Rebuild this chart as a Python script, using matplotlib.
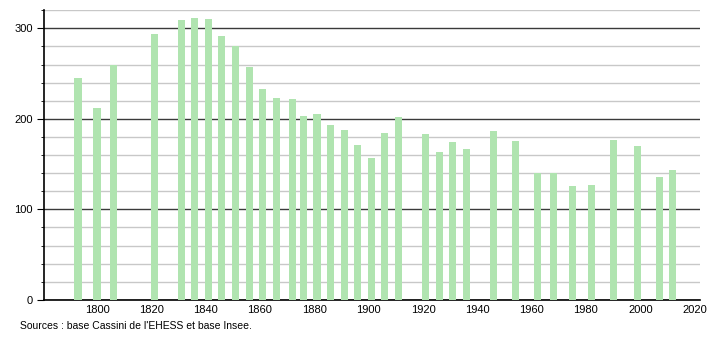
import matplotlib.pyplot as plt
from matplotlib.ticker import MultipleLocator

years = [1793, 1800, 1806, 1821, 1831, 1836, 1841, 1846, 1851, 1856,
         1861, 1866, 1872, 1876, 1881, 1886, 1891, 1896, 1901, 1906,
         1911, 1921, 1926, 1931, 1936, 1946, 1954, 1962, 1968, 1975,
         1982, 1990, 1999, 2007, 2012]
population = [245, 212, 259, 294, 309, 311, 310, 292, 281, 257,
              233, 223, 222, 203, 205, 193, 188, 171, 157, 184,
              202, 183, 163, 174, 167, 187, 176, 140, 140, 126,
              127, 177, 170, 136, 143]
x_ticks = [1800, 1820, 1840, 1860, 1880, 1900, 1920, 1940, 1960, 1980, 2000, 2020]
source = "Sources : base Cassini de l'EHESS et base Insee."

plt.rcParams["font.family"] = ["Liberation Sans", "DejaVu Sans"]

fig = plt.figure(figsize=(7.1, 3.4), dpi=100)
ax = fig.add_axes([0.062, 0.118, 0.924, 0.852])

ax.bar(years, population, width=2.6, color="#b0e4b0", zorder=3)

ax.set_xlim(1780.5, 2022)
ax.set_ylim(0, 320)
ax.yaxis.set_major_locator(MultipleLocator(100))
ax.yaxis.set_minor_locator(MultipleLocator(20))
ax.set_xticks(x_ticks)

ax.grid(axis="y", which="minor", color="#c8c8c8", linewidth=1, zorder=1)
ax.grid(axis="y", which="major", color="#3a3a3a", linewidth=1, zorder=2)
ax.grid(axis="x", visible=False)

for side in ["top", "right"]:
    ax.spines[side].set_visible(False)
ax.spines["left"].set_linewidth(1.2)
ax.spines["bottom"].set_linewidth(1.2)

ax.tick_params(axis="y", which="major", length=5, labelsize=8, pad=3)
ax.tick_params(axis="y", which="minor", length=2.5)
ax.tick_params(axis="x", length=0, labelsize=8, pad=4)

fig.text(0.028, 0.04, source, fontsize=7.5, ha="left", va="center")

plt.savefig("out.png", dpi=100)
plt.close()
